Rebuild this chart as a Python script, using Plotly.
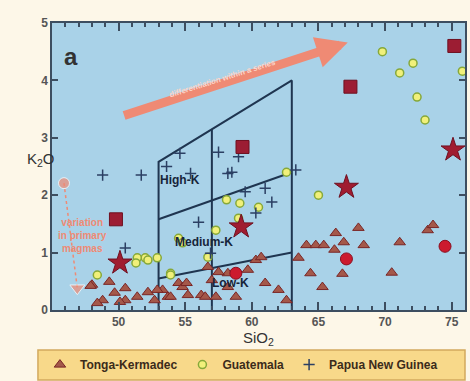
import plotly.graph_objects as go

# ---------------- data ----------------
tonga_sio2 = [48.0, 49.3, 48.8, 49.7, 50.5, 50.5, 51.4, 52.2, 52.7, 53.3, 53.7, 54.5,
              48.4, 50.1, 54.8, 55.2, 56.2, 57.3, 57.0, 58.2, 55.1, 56.7, 57.5, 58.2,
              60.3, 60.7, 61.0, 62.0, 58.8, 59.7, 56.5, 53.9, 52.9, 47.9, 62.6,
              63.5, 64.4, 66.8, 70.5, 65.3, 64.1, 64.8, 65.4, 66.9, 66.2, 66.3,
              68.0, 68.4, 71.1, 73.2, 73.6]
tonga_k2o = [0.44, 0.49, 0.17, 0.30, 0.38, 0.17, 0.23, 0.31, 0.17, 0.35, 0.23, 0.47,
             0.12, 0.14, 0.40, 0.26, 0.26, 0.23, 0.52, 0.64, 0.47, 0.75, 0.66, 0.40,
             0.87, 0.92, 0.47, 0.35, 0.23, 0.70, 0.23, 0.23, 0.35, 0.42, 0.17,
             0.91, 0.64, 0.63, 0.65, 0.40, 1.13, 1.13, 1.13, 1.18, 1.05, 1.34,
             1.43, 1.13, 1.18, 1.39, 1.48]

guat_sio2 = [69.8, 71.1, 72.1, 72.4, 73.0, 75.8, 62.6, 65.0, 58.1, 59.1, 60.5, 59.0,
             57.3, 54.5, 54.8, 56.7, 53.9, 52.9, 52.0, 51.4, 51.3, 52.2, 48.4, 53.9]
guat_k2o = [4.50, 4.13, 4.30, 3.71, 3.31, 4.16, 2.40, 2.00, 1.92, 1.86, 1.79, 1.60,
            1.39, 1.25, 1.17, 0.92, 0.64, 0.91, 0.91, 0.91, 0.82, 0.87, 0.61, 0.61]

png_sio2 = [48.8, 51.7, 54.6, 57.5, 55.4, 58.2, 59.0, 59.5, 61.0, 56.0, 56.9,
            60.3, 61.5, 63.3, 58.5, 50.5, 53.6]
png_k2o = [2.35, 2.35, 2.73, 2.75, 2.38, 2.38, 2.67, 2.06, 2.12, 1.53, 0.99,
           1.69, 1.88, 2.44, 2.40, 1.08, 2.50]

square_sio2 = [75.2, 67.4, 59.3, 49.8]
square_k2o = [4.60, 3.89, 2.84, 1.58]
star_sio2 = [75.1, 67.1, 50.1, 59.2]
star_k2o = [2.79, 2.14, 0.82, 1.45]
diamond_sio2 = [74.5, 67.1, 58.8]
diamond_k2o = [1.11, 0.89, 0.64]

primary_sio2 = [45.9, 46.9]
primary_k2o = [2.21, 0.38]

# series-field boundaries (SiO2, K2O)
outline_sio2 = [53, 53, 63, 63]
outline_k2o = [0, 2.58, 4.0, 0]
divider_sio2 = [57, 57]
divider_k2o = [0, 3.15]
highk_sio2 = [53, 63]
highk_k2o = [1.58, 2.40]
lowk_sio2 = [53, 63]
lowk_k2o = [0.55, 1.00]

field_labels = ["High-K", "Medium-K", "Low-K"]
field_label_sio2 = [54.6, 56.4, 58.4]
field_label_k2o = [2.26, 1.18, 0.47]

x_ticks = [50, 55, 60, 65, 70, 75]
y_ticks = [0, 1, 2, 3, 4, 5]

# ---------------- figure ----------------
NAVY = "#1f3550"
SALMON = "#ef8a74"
PAPER = "#fdf7e8"
FONT = "Liberation Sans"

fig = go.Figure()

line_style = dict(color=NAVY, width=2)
for xs, ys in [(outline_sio2, outline_k2o), (divider_sio2, divider_k2o),
               (highk_sio2, highk_k2o), (lowk_sio2, lowk_k2o)]:
    fig.add_trace(go.Scatter(x=xs, y=ys, mode="lines", line=line_style,
                             showlegend=False, hoverinfo="skip"))

fig.add_trace(go.Scatter(
    x=tonga_sio2, y=tonga_k2o, mode="markers", name="Tonga-Kermadec",
    marker=dict(symbol="triangle-up", size=10, color="#a4584a",
                line=dict(color="#7a2626", width=1))))
fig.add_trace(go.Scatter(
    x=guat_sio2, y=guat_k2o, mode="markers", name="Guatemala",
    marker=dict(symbol="circle", size=8, color="#f1f07a",
                line=dict(color="#86a83a", width=1.5))))
fig.add_trace(go.Scatter(
    x=png_sio2, y=png_k2o, mode="markers", name="Papua New Guinea",
    marker=dict(symbol="cross-thin", size=8,
                line=dict(color="#2b3f63", width=1.5))))

fig.add_trace(go.Scatter(
    x=square_sio2, y=square_k2o, mode="markers", showlegend=False,
    marker=dict(symbol="square", size=13, color="#9c1d33",
                line=dict(color="#6e1020", width=1))))
fig.add_trace(go.Scatter(
    x=star_sio2, y=star_k2o, mode="markers", showlegend=False,
    marker=dict(symbol="star", size=18, color="#a01c30",
                line=dict(color="#6e1020", width=1))))
fig.add_trace(go.Scatter(
    x=diamond_sio2, y=diamond_k2o, mode="markers", showlegend=False,
    marker=dict(symbol="circle", size=12, color="#cc1a2e",
                line=dict(color="#8a1020", width=1))))

# variation in primary magmas arrow
fig.add_trace(go.Scatter(
    x=[primary_sio2[0], primary_sio2[1]], y=[primary_k2o[0], primary_k2o[1]],
    mode="lines", line=dict(color=SALMON, width=1.5, dash="dot"),
    showlegend=False, hoverinfo="skip"))
fig.add_trace(go.Scatter(
    x=primary_sio2, y=primary_k2o, mode="markers", showlegend=False,
    marker=dict(symbol=["circle", "triangle-down"], size=[11, 13], color=SALMON)))

annotations = []
for t, xv, yv in zip(field_labels, field_label_sio2, field_label_k2o):
    annotations.append(dict(x=xv, y=yv, xref="x", yref="y", text=t, showarrow=False,
                            font=dict(family=FONT, size=12, color="#16243a", weight="bold")))

annotations += [
    dict(x=46.4, y=4.42, xref="x", yref="y", text="a", showarrow=False,
         font=dict(family=FONT, size=24, color="#333", weight="bold")),
    dict(x=67.2, y=4.66, ax=50.3, ay=3.38, xref="x", yref="y", axref="x", ayref="y",
         text="", showarrow=True, arrowhead=2, arrowsize=0.7, arrowwidth=9,
         arrowcolor=SALMON, standoff=0, startstandoff=0),
    dict(x=57.8, y=4.03, xref="x", yref="y", text="differentiation within a series",
         showarrow=False, textangle=-17.5,
         font=dict(family=FONT, size=8, color="#fbd6cc", weight="bold")),
    dict(x=47.3, y=1.29, xref="x", yref="y", text="variation<br>in primary<br>magmas",
         showarrow=False, align="center",
         font=dict(family=FONT, size=10, color=SALMON, weight="bold")),
    dict(x=0.499, y=-0.1, xref="paper", yref="paper", text="SiO<sub>2</sub>",
         showarrow=False, yanchor="middle",
         font=dict(family=FONT, size=15, color="#333")),
    dict(x=-0.065, y=0.523, xref="paper", yref="paper", text="K<sub>2</sub>O",
         showarrow=False, yanchor="middle",
         font=dict(family=FONT, size=15, color="#333")),
]

axis_common = dict(showgrid=False, zeroline=False, showline=True, linecolor="#3d4e60",
                   linewidth=1.5, mirror="ticks", ticks="inside", tickcolor="#3d4e60",
                   tickfont=dict(family=FONT, size=12, color="#555", weight="bold"))

# legend box (drawn as a shape so it spans the reference width)
legend_box = dict(type="rect", xref="paper", yref="paper",
                  x0=-0.034, x1=1.0, y0=-0.244, y1=-0.139, layer="below",
                  fillcolor="#f8d98a", line=dict(color="#d2a95e", width=1.5))

fig.update_layout(
    width=470, height=381,
    margin=dict(l=52, r=5, t=23, b=71, autoexpand=False),
    paper_bgcolor=PAPER, plot_bgcolor="#a9d2e8",
    xaxis=dict(range=[45, 76], tickvals=x_ticks, ticklen=8, tickwidth=1.5,
               minor=dict(dtick=1, ticks="inside", ticklen=4, tickcolor="#3d4e60"),
               **axis_common),
    yaxis=dict(range=[0, 5], tickvals=y_ticks, ticklen=6, tickwidth=1.5, **axis_common),
    legend=dict(orientation="h", xref="container", yref="container",
                x=0.085, y=0.043, xanchor="left", yanchor="middle",
                bgcolor="rgba(0,0,0,0)", borderwidth=0, itemwidth=30,
                font=dict(family=FONT, size=12, color="#3b2b1b", weight="bold")),
    shapes=[legend_box],
    annotations=annotations,
)

fig.write_html(
    "out.html",
    config={"displayModeBar": False},
    post_script="document.body.style.margin='0';document.body.style.background='%s';"
                "document.documentElement.style.overflow='hidden';" % PAPER,
)
